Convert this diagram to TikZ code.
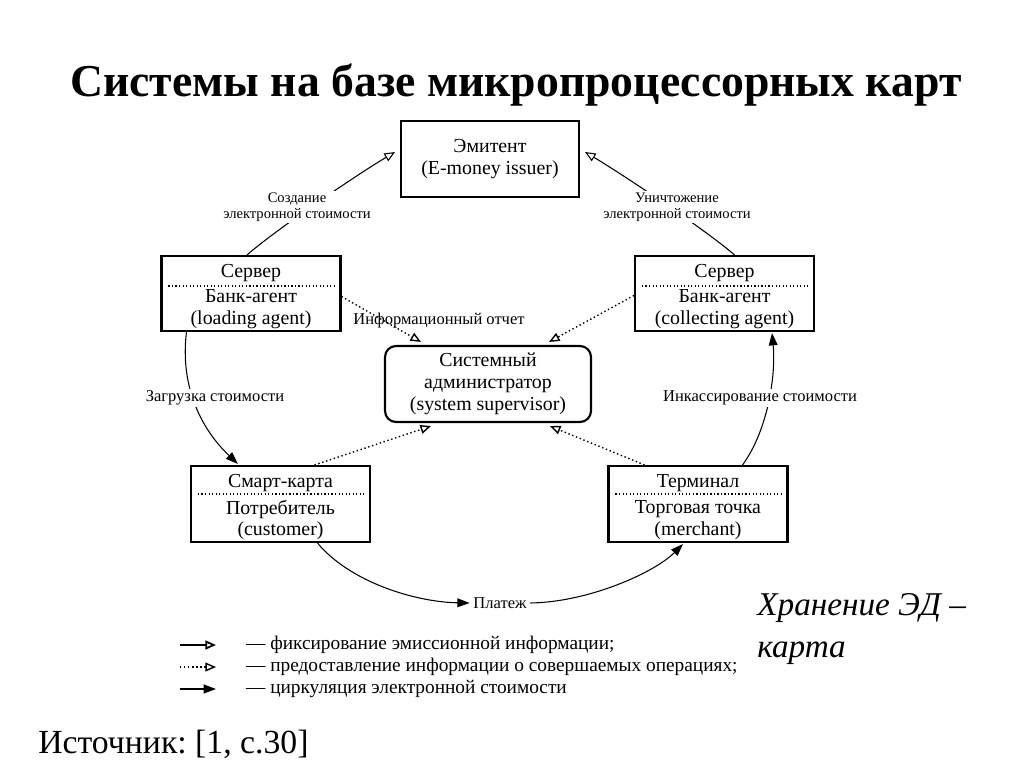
\documentclass[tikz,border=0pt]{standalone}
\usepackage{fontspec}
\setmainfont{Liberation Serif}
\usetikzlibrary{arrows.meta,calc}
\frenchspacing
\begin{document}
\begin{tikzpicture}[x=0.02cm,y=-0.02cm,
  box/.style={draw, line width=1.2pt, inner sep=0pt, minimum width=3.58cm, minimum height=1.5cm, align=center, font=\fontsize{11.3}{12.5}\selectfont},
  txt/.style={inner sep=0pt, align=center, font=\fontsize{11.3}{12.5}\selectfont},
  lbl/.style={inner sep=1pt, align=center, font=\fontsize{9.4}{9.5}\selectfont},
  slbl/.style={inner sep=1pt, align=center, font=\fontsize{8.3}{9.2}\selectfont},
  divider/.style={line width=0.7pt, dash pattern=on 0.7pt off 1.3pt},
  issue/.style={line width=0.6pt, -{Triangle[open, length=6pt, width=5pt]}},
  info/.style={line width=0.8pt, dash pattern=on 0.8pt off 1.5pt, -{Triangle[open, length=6pt, width=5pt, line width=0.8pt]}},
  flow/.style={line width=0.6pt, -{Triangle[length=7pt, width=5pt]}},
  legtxt/.style={inner sep=1pt, anchor=west, font=\fontsize{11}{12}\selectfont}
]
\useasboundingbox[fill=white] (0,0) rectangle (1024,768);

% title
\node[inner sep=0pt, font=\fontsize{26}{30}\selectfont\bfseries] (title) at (516,85) {Системы на базе микропроцессорных карт};

% boxes
\node[box, minimum width=3.56cm, minimum height=1.52cm] (emi) at (490,159) {Эмитент\\(E-money issuer)};
\node[box] (ls) at (251,293.5) {};
\node[box] (rs) at (724.5,293.5) {};
\node[box, minimum width=4.12cm, minimum height=1.52cm, rounded corners=0.22cm] (adm) at (488,384) {Системный\\администратор\\(system supervisor)};
\node[box, minimum height=1.52cm] (sc) at (280.5,504) {};
\node[box, minimum height=1.52cm] (tm) at (698,504) {};

% box texts
\node[txt] (lsT) at (251,273) {Сервер};
\node[txt] (lsB) at (251,309.5) {Банк-агент\\(loading agent)};
\node[txt] (rsT) at (724.5,273) {Сервер};
\node[txt] (rsB) at (724.5,309.5) {Банк-агент\\(collecting agent)};
\node[txt] (scT) at (280.5,483) {Смарт-карта};
\node[txt] (scB) at (280.5,520) {Потребитель\\(customer)};
\node[txt] (tmT) at (698,483) {Терминал};
\node[txt] (tmB) at (698,520) {Торговая точка\\(merchant)};

% dividers
\draw[divider] ($(ls.west)+(8,-7.5)$) -- ($(ls.east)+(-5,-7.5)$);
\draw[divider] ($(rs.west)+(8,-7.5)$) -- ($(rs.east)+(-5,-7.5)$);
\draw[divider] ($(sc.west)+(8,-10)$) -- ($(sc.east)+(-5,-10)$);
\draw[divider] ($(tm.west)+(8,-10)$) -- ($(tm.east)+(-5,-10)$);

% issue arrows
\coordinate (a1s) at ($(ls.north)+(-4,0)$);
\coordinate (a1e) at ($(emi.west)+(-5,-7)$);
\draw[issue] (a1s) .. controls ($(a1s)+(25,-22)$) and ($(a1e)+(-45,27)$) .. (a1e);
\coordinate (a2s) at ($(rs.north)+(10,0)$);
\coordinate (a2e) at ($(emi.east)+(5,-7)$);
\draw[issue] (a2s) .. controls ($(a2s)+(-25,-22)$) and ($(a2e)+(45,27)$) .. (a2e);
\node[slbl, fill=white] (lcre) at (297,207) {Создание\\электронной стоимости};
\node[slbl, fill=white] (ldes) at (677,207) {Уничтожение\\электронной стоимости};

% flow arrows
\coordinate (f1s) at ($(ls.south west)+(26,0)$);
\coordinate (f1e) at ($(sc.north west)+(48,-1)$);
\draw[flow] (f1s) .. controls (180,385) and (200,428) .. (f1e);
\coordinate (f2s) at ($(tm.north east)+(-46,0)$);
\coordinate (f2e) at ($(rs.south east)+(-43,1)$);
\draw[flow] (f2s) .. controls (768,430) and (776,375) .. (f2e);
\node[lbl, fill=white] (lload) at (215,398) {Загрузка стоимости};
\node[lbl, fill=white] (lcoll) at (760,398) {Инкассирование стоимости};

\node[lbl] (pay) at (500,603) {Платеж};
\coordinate (f3s) at ($(sc.south)+(37,0)$);
\draw[flow] (f3s) .. controls (350,582) and (415,602) .. ([xshift=-1pt]pay.west);
\coordinate (f4e) at ($(tm.south)+(-15,1)$);
\draw[flow] ([xshift=1pt]pay.east) .. controls (590,602) and (655,572) .. (f4e);

% info arrows
\coordinate (i1s) at ($(ls.east)+(0,3)$);
\coordinate (i1e) at ($(adm.north)+(-67,-3)$);
\draw[info] (i1s) -- (i1e);
\coordinate (i2s) at ($(rs.west)+(0,2)$);
\coordinate (i2e) at ($(adm.north)+(61,-3)$);
\draw[info] (i2s) -- (i2e);
\coordinate (i3s) at ($(sc.north)+(34,0)$);
\coordinate (i3e) at ($(adm.south)+(-57,3)$);
\draw[info] (i3s) -- (i3e);
\coordinate (i4s) at ($(tm.north west)+(37,0)$);
\coordinate (i4e) at ($(adm.south)+(62,3)$);
\draw[info] (i4s) -- (i4e);
\node[lbl] (linfo) at (439,321) {Информационный отчет};

% legend
\coordinate (g1s) at (180,645); \coordinate (g1e) at (216,645);
\coordinate (g2s) at (180,667); \coordinate (g2e) at (216,667);
\coordinate (g3s) at (180,689); \coordinate (g3e) at (216,689);
\draw[issue, line width=1pt] (g1s) -- (g1e);
\draw[info, line width=1pt] (g2s) -- (g2e);
\draw[flow, line width=1pt] (g3s) -- (g3e);
\node[legtxt] (t1) at (244,645) {— фиксирование эмиссионной информации;};
\node[legtxt] (t2) at (244,667) {— предоставление информации о совершаемых операциях;};
\node[legtxt] (t3) at (244,689) {— циркуляция электронной стоимости};

% side note and source
\node[inner sep=0pt, anchor=north west, align=left, font=\fontsize{18.9}{24}\selectfont\itshape] (note) at (757,593) {Хранение ЭД –\\карта};
\node[inner sep=0pt, anchor=west, font=\fontsize{19.2}{22}\selectfont] (src) at (38,744) {Источник: [1, с.30]};
\end{tikzpicture}
\end{document}
